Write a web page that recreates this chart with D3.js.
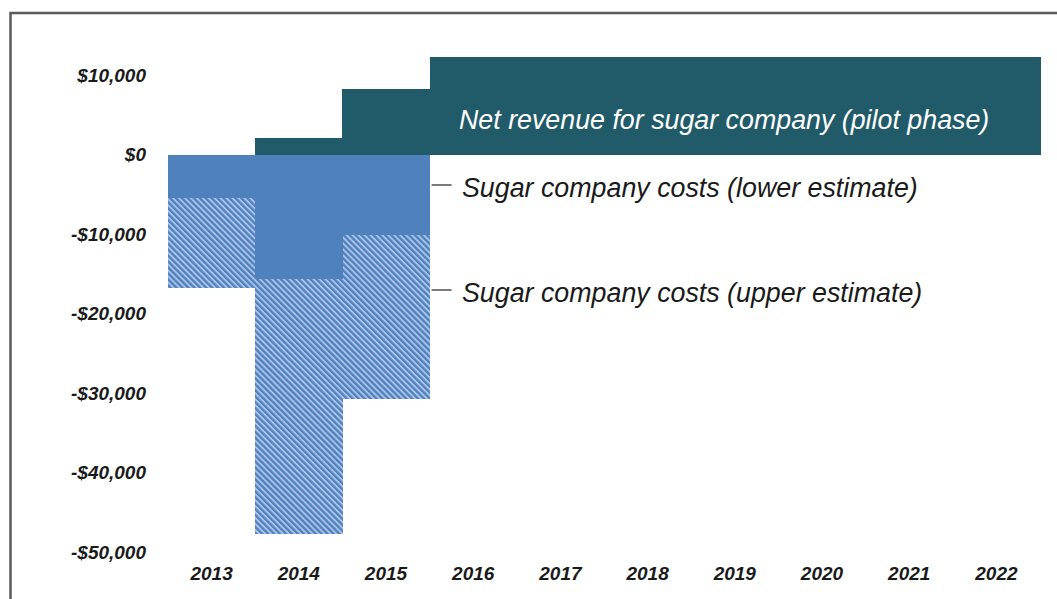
<!DOCTYPE html>
<html>
<head>
<meta charset="utf-8">
<script src="https://cdn.jsdelivr.net/npm/d3@7"></script>
<style>
  html, body { margin: 0; padding: 0; background: #fff; }
  svg { display: block; }
  text { font-family: "Liberation Sans", Arial, sans-serif; }
</style>
</head>
<body>
<svg id="chart" width="1057" height="599"></svg>
<script>
// Years on the horizontal axis
const years = ["2013", "2014", "2015", "2016", "2017", "2018", "2019", "2020", "2021", "2022"];
// Net revenue for the sugar company (pilot phase), USD
const netRevenue = [0, 2100, 8200, 12300, 12300, 12300, 12300, 12300, 12300, 12300];
// Sugar company costs, lower estimate, USD
const costsLower = [-5500, -15700, -10100, null, null, null, null, null, null, null];
// Sugar company costs, upper estimate, USD
const costsUpper = [-16800, -47700, -30800, null, null, null, null, null, null, null];
// Y axis ticks
const yTicks = [10000, 0, -10000, -20000, -30000, -40000, -50000];
// Series labels
const labelRevenue = "Net revenue for sugar company (pilot phase)";
const labelLower = "Sugar company costs (lower estimate)";
const labelUpper = "Sugar company costs (upper estimate)";

const svg = d3.select("#chart");

const x = d3.scaleBand().domain(years).range([168, 1040]).padding(0);
const y = d3.scaleLinear().domain([-50000, 10000]).range([552, 75]);

const colRevenue = "#215b69";
const colCost = "#4f81bd";

// Diagonal hatch for the upper-estimate bars
const defs = svg.append("defs");
const pat = defs.append("pattern")
  .attr("id", "hatch")
  .attr("patternUnits", "userSpaceOnUse")
  .attr("width", 4.2).attr("height", 4.2)
  .attr("patternTransform", "rotate(-45)");
pat.append("rect").attr("width", 4.2).attr("height", 4.2).attr("fill", "#aac3ea");
pat.append("rect").attr("width", 2.3).attr("height", 4.2).attr("fill", colCost);

// Frame
svg.append("rect")
  .attr("x", 10.5).attr("y", 13)
  .attr("width", 1060).attr("height", 600)
  .attr("fill", "none").attr("stroke", "#5a5a5a").attr("stroke-width", 2.5);

// Net revenue bars
svg.append("g").attr("shape-rendering", "crispEdges").selectAll("rect")
  .data(years.map((yr, i) => ({ yr, v: netRevenue[i] })).filter(d => d.v > 0))
  .join("rect")
  .attr("x", d => x(d.yr))
  .attr("width", x.bandwidth() + 0.5)
  .attr("y", d => y(d.v))
  .attr("height", d => y(0) - y(d.v))
  .attr("fill", colRevenue);

// Upper-estimate cost bars (hatched)
svg.append("g").attr("shape-rendering", "crispEdges").selectAll("rect")
  .data(years.map((yr, i) => ({ yr, v: costsUpper[i] })).filter(d => d.v != null))
  .join("rect")
  .attr("x", d => x(d.yr))
  .attr("width", x.bandwidth() + 0.5)
  .attr("y", y(0))
  .attr("height", d => y(d.v) - y(0))
  .attr("fill", "url(#hatch)");

// Lower-estimate cost bars (solid)
svg.append("g").attr("shape-rendering", "crispEdges").selectAll("rect")
  .data(years.map((yr, i) => ({ yr, v: costsLower[i] })).filter(d => d.v != null))
  .join("rect")
  .attr("x", d => x(d.yr))
  .attr("width", x.bandwidth() + 0.5)
  .attr("y", y(0))
  .attr("height", d => y(d.v) - y(0))
  .attr("fill", colCost);

// Y axis labels
const fmt = v => (v < 0 ? "-$" : "$") + d3.format(",")(Math.abs(v));
const yAxis = d3.axisLeft(y).tickValues(yTicks).tickFormat(fmt).tickSize(0).tickPadding(0);
const gy = svg.append("g").attr("transform", "translate(146,0)").call(yAxis);
gy.select(".domain").remove();
gy.selectAll("text")
  .attr("font-family", "'Liberation Sans', Arial, sans-serif")
  .attr("font-size", 19).attr("font-weight", "bold").attr("font-style", "italic")
  .attr("fill", "#1a1a1a");

// X axis labels
const xAxis = d3.axisBottom(x).tickSize(0).tickPadding(0);
const gx = svg.append("g").attr("transform", "translate(0,566)").call(xAxis);
gx.select(".domain").remove();
gx.selectAll("text")
  .attr("font-family", "'Liberation Sans', Arial, sans-serif")
  .attr("font-size", 19).attr("font-weight", "bold").attr("font-style", "italic")
  .attr("fill", "#1a1a1a");

// Series labels
svg.append("text")
  .attr("x", 459).attr("y", 129)
  .attr("font-size", 26.8).attr("font-style", "italic")
  .attr("fill", "#ffffff")
  .text(labelRevenue);

const labelX = x("2015") + x.bandwidth();
const leaders = [
  { text: labelLower, ly: 185, ty: 197 },
  { text: labelUpper, ly: 290, ty: 302 }
];
leaders.forEach(d => {
  svg.append("line")
    .attr("x1", labelX + 2).attr("x2", labelX + 22)
    .attr("y1", d.ly).attr("y2", d.ly)
    .attr("stroke", "#333").attr("stroke-width", 1.3);
  svg.append("text")
    .attr("x", 462).attr("y", d.ty)
    .attr("font-size", 26.8).attr("font-style", "italic")
    .attr("fill", "#1a1a1a")
    .text(d.text);
});
</script>
</body>
</html>
